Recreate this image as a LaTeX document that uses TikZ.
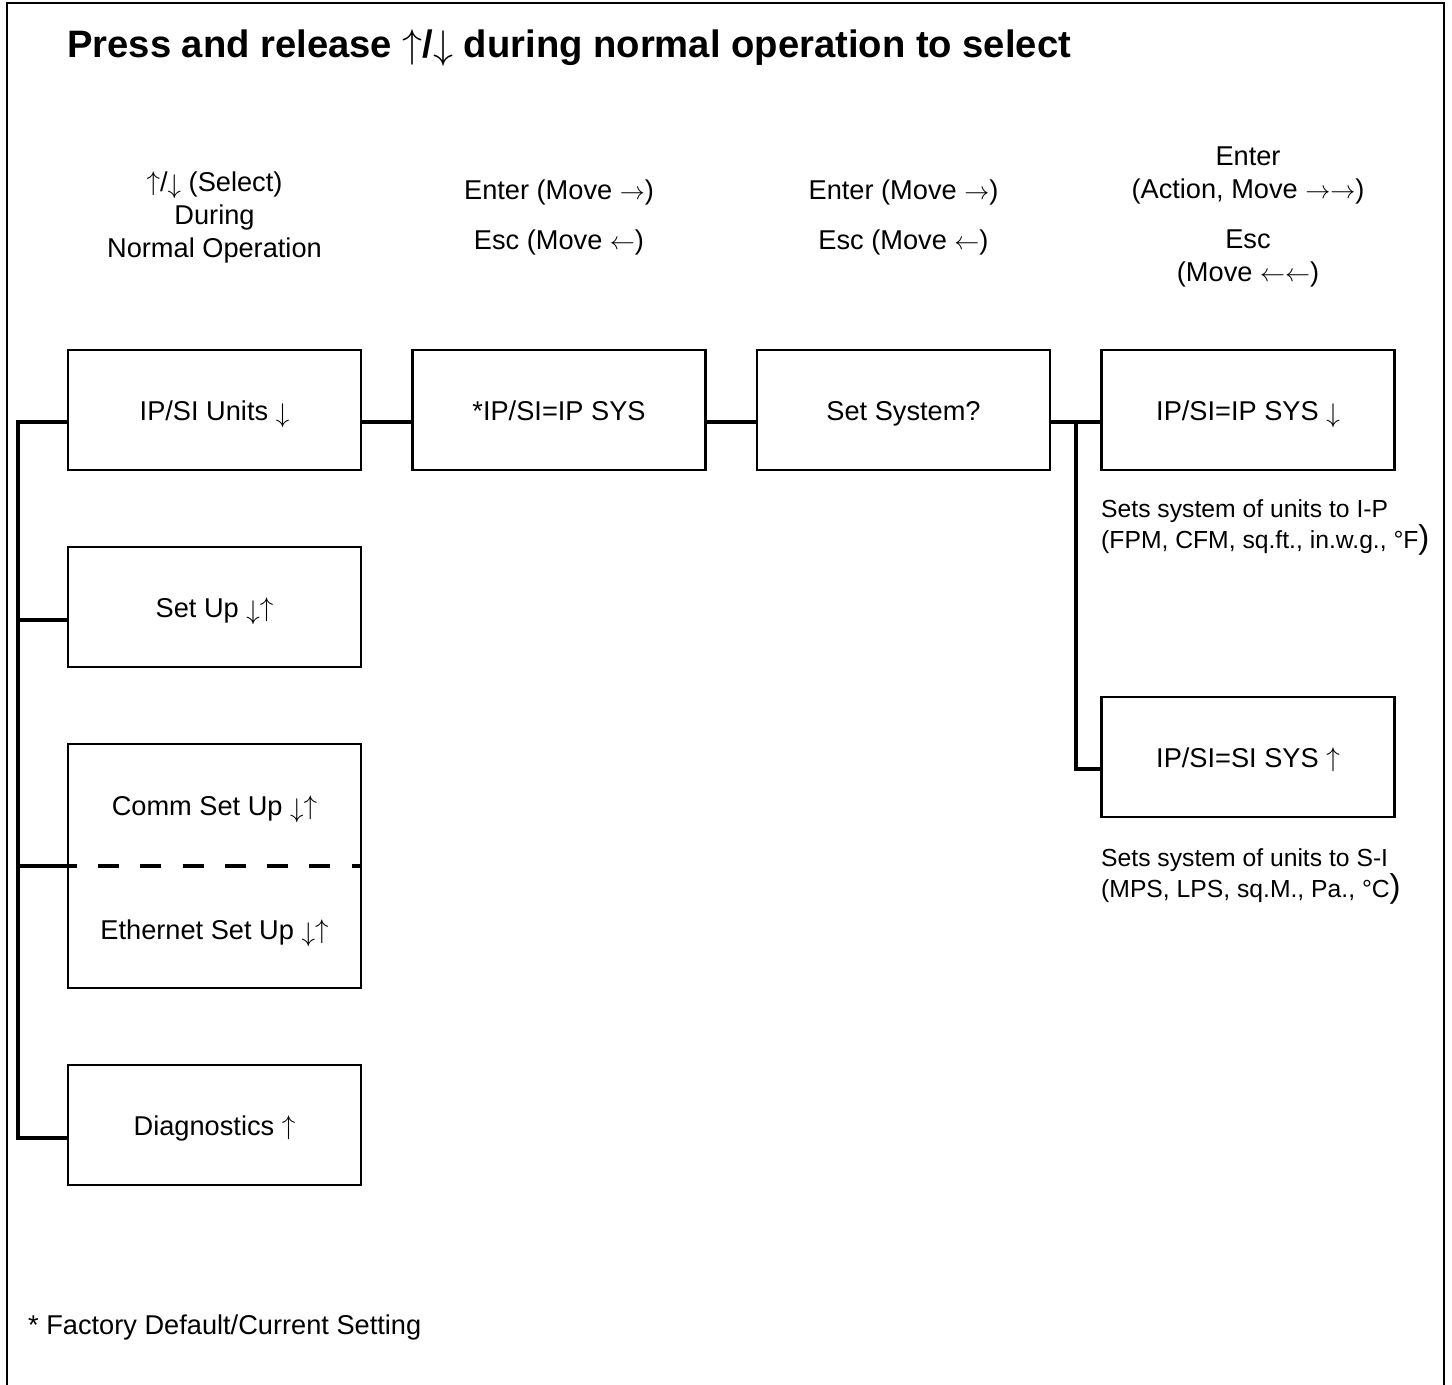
\documentclass[tikz,border=0pt]{standalone}
\usepackage{graphicx}
\usepackage{fontspec}
\setmainfont{Liberation Sans}
\usetikzlibrary{calc}
\newcommand{\myup}{\raisebox{1pt}{\scalebox{2.7}{\normalsize$\uparrow$}}}
\newcommand{\mydown}{\raisebox{-2pt}{\scalebox{2.7}{\normalsize$\downarrow$}}}
\newcommand{\myright}{\scalebox{2.5}{\normalsize$\rightarrow$}}
\newcommand{\myleft}{\scalebox{2.5}{\normalsize$\leftarrow$}}
\newcommand{\tup}{\raisebox{0pt}{\scalebox{4}{\normalsize$\uparrow$}}}
\newcommand{\tdown}{\raisebox{-1pt}{\scalebox{4}{\normalsize$\downarrow$}}}
\newcommand{\bigp}{{\fontsize{33}{31}\selectfont)}}
\tikzset{
  box/.style={draw, line width=2.2pt, minimum width=293pt, minimum height=120pt, inner sep=0pt, text height=26pt, text depth=6pt, font=\fontsize{27.2}{30}\selectfont},
  conn/.style={line width=4.5pt},
  lbl/.style={font=\fontsize{27.2}{33}\selectfont, align=center, inner sep=0pt},
  txt/.style={font=\fontsize{27.2}{30}\selectfont, inner sep=0pt, anchor=base},
  note/.style={font=\fontsize{24.7}{31}\selectfont, inner sep=0pt, anchor=base west},
}
\begin{document}
\begin{tikzpicture}[x=1pt,y=-1pt]
\useasboundingbox (0,0) rectangle (1452,1385);
\draw[line width=2pt] (7,1385) -- (7,3) -- (1444,3) -- (1444,1385);
\node[anchor=base west, inner sep=0pt, font=\fontsize{38.2}{40}\selectfont\bfseries] (title) at (67,57) {Press and release \tup/\tdown{} during normal operation to select};

\node[lbl] (h1) at (214.5,217) {\myup/\mydown{} (Select)\\During\\Normal Operation};
\node[lbl] (h2) at (559,217) {Enter (Move \myright)\\[17pt]Esc (Move \myleft)};
\node[lbl] (h3) at (903.5,217) {Enter (Move \myright)\\[17pt]Esc (Move \myleft)};
\node[lbl] (h4) at (1248,217) {Enter\\(Action, Move \myright\myright)\\[17pt]Esc\\(Move \myleft\myleft)};

\node[box] (b1) at (214.5,410) {IP/SI Units \mydown};
\node[box] (b2) at (214.5,607) {Set Up \mydown\myup};
\node[box, minimum height=244pt] (b3) at (214.5,866) {};
\node[txt] (b3a) at (214.5,815) {Comm Set Up \mydown\myup};
\node[txt] (b3b) at (214.5,939) {Ethernet Set Up \mydown\myup};
\node[box] (b4) at (214.5,1125) {Diagnostics \myup};

\node[box] (c1) at (559,410) {*IP/SI=IP SYS};
\node[box] (d1) at (903.5,410) {Set System?};
\node[box] (e1) at (1248,410) {IP/SI=IP SYS \mydown};
\node[box] (e2) at (1248,757) {IP/SI=SI SYS \myup};

\node[note] (n1a) at (1101,517) {Sets system of units to I-P};
\node[note] (n1b) at (1101,548) {(FPM, CFM, sq.ft., in.w.g., °F\bigp};
\node[note] (n2a) at (1101,866) {Sets system of units to S-I};
\node[note] (n2b) at (1101,897) {(MPS, LPS, sq.M., Pa., °C\bigp};

\node[txt, anchor=base west] (foot) at (28,1334) {* Factory Default/Current Setting};

% connectors
\coordinate (bus) at (18,0);
\draw[conn] ($(b1.west)+(0,12)$) -- ($(bus |- b1.west)+(0,12)$) -- ($(bus |- b4.west)+(0,13)$) -- ($(b4.west)+(0,13)$);
\draw[conn] ($(bus |- b2.west)+(0,13)$) -- ($(b2.west)+(0,13)$);
\draw[conn] (bus |- b3.west) -- ($(b3.west)+(10,0)$);
\draw[conn, dash pattern=on 21pt off 21.3pt] ($(b3.west)+(31,0)$) -- (b3.east);
\draw[conn] ($(b1.east)+(0,12)$) -- ($(c1.west)+(0,12)$);
\draw[conn] ($(c1.east)+(0,12)$) -- ($(d1.west)+(0,12)$);
\draw[conn] ($(d1.east)+(0,12)$) -- ($(e1.west)+(0,12)$);
\coordinate (j) at ($(d1.east)!0.5!(e1.west)+(0,12)$);
\draw[conn] (j) |- ($(e2.west)+(0,12)$);
\end{tikzpicture}
\end{document}
